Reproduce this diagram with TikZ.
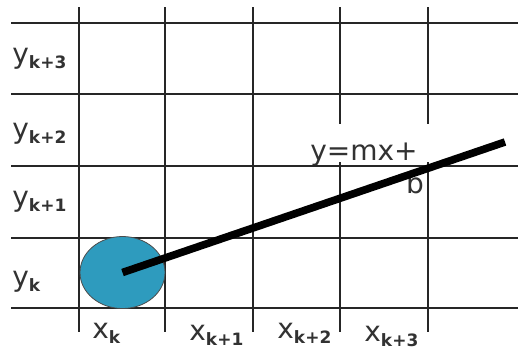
\documentclass[tikz,border=0pt]{standalone}
\usepackage{fontspec}
\setmainfont{DejaVu Sans}
\usepackage{xcolor}
\usetikzlibrary{shapes.geometric}
\definecolor{pixblue}{RGB}{46,155,190}
\definecolor{labelgray}{RGB}{50,50,50}
\newcommand{\gridlbl}[2]{{\fontsize{14}{16}\selectfont #1}\raisebox{-2.5pt}{\fontsize{8.5}{10}\selectfont\bfseries #2}}
\tikzset{
  gridline/.style={draw=black!85, line width=0.9pt},
  axislabel/.style={anchor=base west, inner sep=0pt, text=labelgray},
  pixel/.style={
    ellipse,
    draw=black!70,
    fill=pixblue,
    minimum width=42.5pt,
    minimum height=36pt,
    inner sep=0pt
  },
  eqnbox/.style={
    anchor=base,
    fill=white,
    minimum width=67pt,
    inner xsep=0pt,
    inner ysep=0pt,
    text height=18pt,
    text depth=1pt,
    font=\fontsize{14}{16}\selectfont,
    text=labelgray
  },
  rasterline/.style={line width=3.8pt, black}
}

\begin{document}
\begin{tikzpicture}[x=0.5pt, y=-0.5pt]
  \useasboundingbox (0,0) rectangle (518,350);

  % grid columns
  \foreach \gx in {79,165,253,340,428}
    \draw[gridline] (\gx,7) -- (\gx,332);

  \node[eqnbox] (eqn) at (364,160) {y=mx+};

  % grid rows
  \foreach \gy in {23,94,166,238,308}
    \draw[gridline] (11,\gy) -- (518,\gy);

  \node[axislabel] (yk3) at (12,63) {\gridlbl{y}{k+3}};
  \node[axislabel] (yk2) at (12,138) {\gridlbl{y}{k+2}};
  \node[axislabel] (yk1) at (12,206) {\gridlbl{y}{k+1}};
  \node[axislabel] (yk0) at (12,286) {\gridlbl{y}{k}};

  \node[axislabel] (xk0) at (92,338) {\gridlbl{x}{k}};
  \node[axislabel] (xk1) at (189,340) {\gridlbl{x}{k+1}};
  \node[axislabel] (xk2) at (277,338) {\gridlbl{x}{k+2}};
  \node[axislabel] (xk3) at (364,341) {\gridlbl{x}{k+3}};

  \node[anchor=base, inner sep=0pt, text=labelgray, font=\fontsize{14}{16}\selectfont] (eqnb) at (415,193) {b};

  \node[pixel] (pix) at (122.5,272.5) {};
  \coordinate (lineend) at (505,142);
  \draw[rasterline] (pix.center) -- (lineend);
\end{tikzpicture}
\end{document}
